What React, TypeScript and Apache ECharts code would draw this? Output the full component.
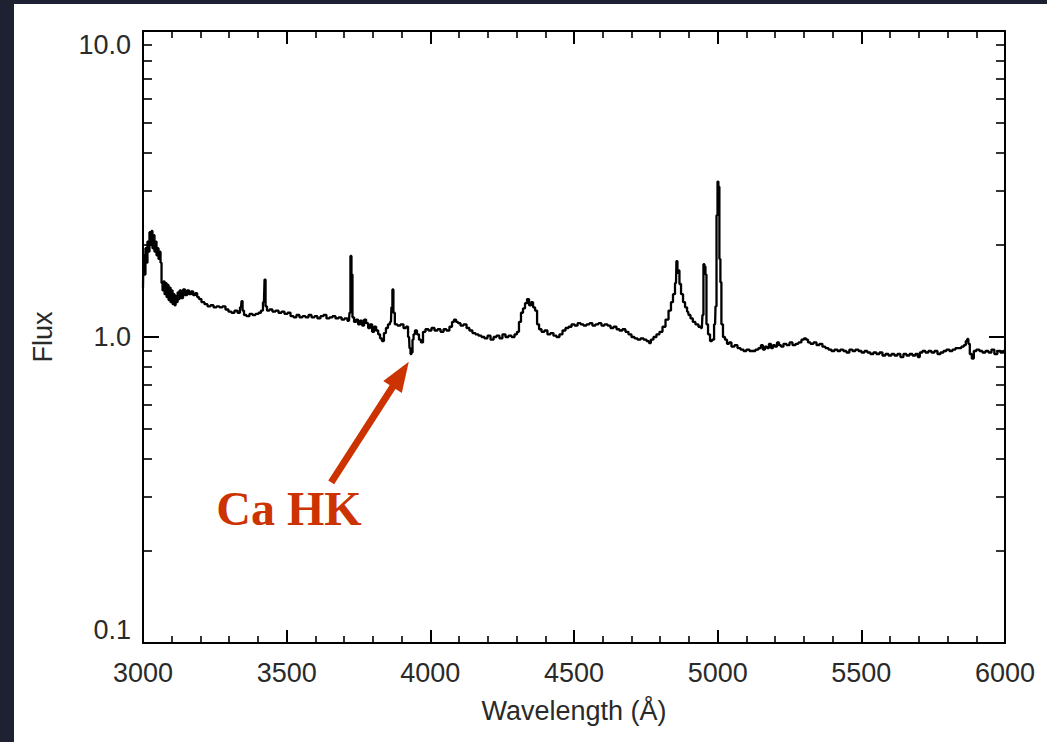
import React, { useEffect, useRef } from "react";
import * as echarts from "echarts";

// Axis ranges / tick labels
const xMin = 3000;
const xMax = 6000;
const xMajorStep = 500;
const yMin = 0.1;
const yMax = 10;
const minorFactors = [2, 3, 4, 5, 6, 7, 8, 9];
const decades = [-1, 0];

const xTitle = "Wavelength (Å)";
const yTitle = "Flux";
const annotationText = "Ca HK";

// Annotation anchors (data coordinates)
const arrowTip: [number, number] = [3925, 0.83];
const arrowTail: [number, number] = [3655, 0.335];
const labelAnchor: [number, number] = [3508, 0.275];

// Spectrum: [wavelength (Å), flux]
const spectrum: [number, number][] = [
  [3000, 1.45], [3003, 1.85], [3007, 1.6], [3010, 1.95], [3014, 1.75], [3017, 2.05],
  [3021, 1.9], [3024, 2.2], [3028, 2.0], [3031, 2.22], [3035, 1.95], [3038, 2.15],
  [3042, 1.9], [3045, 2.05], [3049, 1.85], [3052, 1.95], [3056, 1.8], [3059, 1.9],
  [3063, 1.75], [3066, 1.5], [3070, 1.42], [3073, 1.52], [3077, 1.38], [3080, 1.5],
  [3084, 1.35], [3087, 1.48], [3091, 1.32], [3094, 1.45], [3098, 1.3], [3101, 1.42],
  [3105, 1.28], [3108, 1.38], [3112, 1.27], [3115, 1.36], [3119, 1.3], [3122, 1.4],
  [3126, 1.33], [3129, 1.42], [3136, 1.34], [3143, 1.43], [3150, 1.37], [3157, 1.42],
  [3164, 1.38], [3171, 1.41], [3178, 1.37], [3185, 1.39], [3192, 1.35], [3198, 1.33],
  [3209, 1.3], [3219, 1.28], [3230, 1.26], [3240, 1.27], [3251, 1.25], [3261, 1.26],
  [3271, 1.25], [3282, 1.26], [3292, 1.23], [3303, 1.21], [3313, 1.2], [3324, 1.22],
  [3334, 1.2], [3341, 1.25], [3345, 1.31], [3348, 1.22], [3355, 1.18], [3365, 1.17],
  [3376, 1.19], [3386, 1.18], [3397, 1.19], [3407, 1.2], [3414, 1.22], [3421, 1.3],
  [3425, 1.54], [3428, 1.26], [3435, 1.22], [3445, 1.23], [3456, 1.21], [3466, 1.22],
  [3477, 1.2], [3487, 1.21], [3498, 1.19], [3508, 1.2], [3519, 1.17], [3529, 1.16],
  [3539, 1.18], [3550, 1.16], [3560, 1.17], [3571, 1.16], [3581, 1.18], [3592, 1.16],
  [3602, 1.17], [3612, 1.15], [3623, 1.17], [3633, 1.18], [3644, 1.15], [3654, 1.16],
  [3665, 1.17], [3675, 1.15], [3686, 1.16], [3696, 1.14], [3706, 1.15], [3717, 1.13],
  [3720, 1.2], [3724, 1.84], [3727, 1.6], [3731, 1.16], [3738, 1.12], [3745, 1.14],
  [3752, 1.1], [3759, 1.13], [3766, 1.09], [3773, 1.14], [3780, 1.11], [3787, 1.07],
  [3794, 1.1], [3801, 1.04], [3808, 1.08], [3815, 1.05], [3822, 1.02], [3828, 0.99],
  [3835, 0.97], [3842, 1.03], [3849, 1.07], [3856, 1.1], [3863, 1.12], [3866, 1.25],
  [3870, 1.43], [3873, 1.2], [3880, 1.1], [3891, 1.09], [3901, 1.1], [3912, 1.07],
  [3919, 1.08], [3926, 1.0], [3929, 0.92], [3933, 0.88], [3936, 0.89], [3940, 0.98],
  [3943, 1.02], [3950, 1.05], [3957, 1.02], [3964, 0.98], [3971, 0.96], [3978, 1.04],
  [3988, 1.06], [3999, 1.05], [4009, 1.07], [4020, 1.05], [4030, 1.06], [4041, 1.04],
  [4051, 1.06], [4061, 1.05], [4072, 1.08], [4079, 1.12], [4086, 1.14], [4093, 1.12],
  [4100, 1.11], [4110, 1.09], [4121, 1.1], [4131, 1.07], [4141, 1.05], [4152, 1.03],
  [4162, 1.02], [4173, 1.01], [4183, 1.0], [4194, 0.99], [4204, 1.01], [4215, 0.98],
  [4225, 1.0], [4235, 1.01], [4246, 0.99], [4256, 1.02], [4267, 1.0], [4277, 1.01],
  [4288, 1.0], [4298, 1.02], [4305, 1.04], [4312, 1.12], [4319, 1.2], [4326, 1.24],
  [4333, 1.29], [4340, 1.33], [4347, 1.27], [4354, 1.3], [4361, 1.25], [4368, 1.22],
  [4375, 1.1], [4382, 1.06], [4392, 1.04], [4402, 1.05], [4413, 1.02], [4423, 1.03],
  [4434, 1.01], [4444, 1.0], [4455, 1.02], [4465, 1.05], [4476, 1.07], [4486, 1.08],
  [4497, 1.1], [4507, 1.09], [4518, 1.11], [4528, 1.1], [4538, 1.09], [4549, 1.1],
  [4559, 1.11], [4569, 1.09], [4580, 1.1], [4590, 1.11], [4601, 1.09], [4611, 1.1],
  [4622, 1.09], [4632, 1.07], [4643, 1.08], [4653, 1.06], [4663, 1.05], [4674, 1.06],
  [4684, 1.04], [4695, 1.02], [4705, 1.0], [4716, 0.99], [4726, 0.98], [4737, 0.99],
  [4747, 0.98], [4758, 0.97], [4764, 0.956], [4771, 0.98], [4782, 1.0], [4792, 1.02],
  [4803, 1.04], [4813, 1.08], [4824, 1.14], [4834, 1.22], [4841, 1.3], [4848, 1.38],
  [4855, 1.5], [4858, 1.77], [4862, 1.62], [4865, 1.65], [4869, 1.49], [4876, 1.38],
  [4883, 1.3], [4890, 1.25], [4897, 1.21], [4901, 1.18], [4910, 1.15], [4917, 1.12],
  [4928, 1.1], [4938, 1.08], [4945, 1.07], [4949, 1.18], [4952, 1.73], [4956, 1.7],
  [4959, 1.6], [4963, 1.1], [4970, 1.02], [4977, 0.97], [4984, 0.98], [4991, 1.1],
  [4994, 1.26], [4998, 2.5], [5001, 3.22], [5004, 3.1], [5008, 1.8], [5011, 1.51],
  [5015, 1.1], [5022, 1.0], [5029, 0.98], [5036, 0.95], [5043, 0.96], [5053, 0.93],
  [5064, 0.94], [5074, 0.92], [5085, 0.91], [5095, 0.9], [5105, 0.91], [5116, 0.9],
  [5126, 0.9], [5137, 0.91], [5147, 0.92], [5154, 0.94], [5161, 0.91], [5168, 0.93],
  [5175, 0.92], [5182, 0.95], [5189, 0.92], [5196, 0.94], [5203, 0.93], [5210, 0.96],
  [5217, 0.94], [5224, 0.93], [5234, 0.95], [5245, 0.94], [5255, 0.96], [5266, 0.94],
  [5276, 0.95], [5286, 0.96], [5297, 0.98], [5304, 0.99], [5311, 0.98], [5318, 0.96],
  [5328, 0.95], [5339, 0.96], [5349, 0.94], [5359, 0.95], [5370, 0.93], [5380, 0.92],
  [5391, 0.91], [5401, 0.9], [5412, 0.91], [5422, 0.9], [5432, 0.91], [5443, 0.9],
  [5453, 0.89], [5464, 0.91], [5474, 0.9], [5485, 0.91], [5495, 0.9], [5506, 0.89],
  [5516, 0.9], [5526, 0.89], [5537, 0.88], [5547, 0.89], [5558, 0.88], [5568, 0.89],
  [5579, 0.87], [5589, 0.88], [5600, 0.87], [5610, 0.88], [5620, 0.87], [5631, 0.88],
  [5641, 0.86], [5652, 0.88], [5662, 0.87], [5673, 0.88], [5683, 0.87], [5693, 0.88],
  [5700, 0.86], [5707, 0.89], [5718, 0.9], [5728, 0.89], [5739, 0.9], [5749, 0.89],
  [5760, 0.9], [5770, 0.88], [5781, 0.89], [5791, 0.9], [5801, 0.91], [5812, 0.9],
  [5822, 0.91], [5833, 0.92], [5843, 0.92], [5853, 0.93], [5860, 0.94], [5867, 0.97],
  [5871, 0.985], [5874, 0.95], [5881, 0.88], [5888, 0.85], [5895, 0.9], [5906, 0.91],
  [5916, 0.9], [5927, 0.89], [5937, 0.9], [5948, 0.89], [5958, 0.91], [5968, 0.88],
  [5979, 0.9], [5989, 0.89], [6000, 0.9],
];

const FONT = "Liberation Sans";
const TEXT_COLOR = "#2a2a2a";
const RED = "#cc3300";

// minor tick positions expressed in log10 space for the overlay axes
const minorTickLogValues: number[] = [];
decades.forEach((d) => minorFactors.forEach((f) => minorTickLogValues.push(d + Math.log10(f))));

export default function App() {
  const ref = useRef<HTMLDivElement>(null);

  useEffect(() => {
    document.body.style.margin = "0";
    if (!ref.current) return;
    const chart = echarts.init(ref.current, null, { renderer: "svg" });

    const axisLine = { show: true, onZero: false, lineStyle: { color: "#000", width: 2 } };

    const xAxisBase = {
      type: "value",
      min: xMin,
      max: xMax,
      interval: xMajorStep,
      axisLine,
      axisTick: { show: true, inside: true, length: 13, lineStyle: { color: "#000", width: 2 } },
      minorTick: { show: true, splitNumber: 5, length: 7, lineStyle: { color: "#000", width: 1.6 } },
      splitLine: { show: false },
      minorSplitLine: { show: false },
    };

    const yLogBase = {
      type: "log",
      logBase: 10,
      min: yMin,
      max: yMax,
      axisLine,
      axisTick: { show: true, inside: true, length: 16, lineStyle: { color: "#000", width: 2 } },
      splitLine: { show: false },
    };

    const yMinorBase = {
      type: "value",
      min: -1,
      max: 1,
      axisLine: { show: false },
      axisLabel: { show: false },
      splitLine: { show: false },
      axisTick: {
        show: true,
        inside: true,
        length: 9,
        customValues: minorTickLogValues,
        lineStyle: { color: "#000", width: 1.6 },
      },
    };

    const option: any = {
      animation: false,
      backgroundColor: "#ffffff",
      grid: { left: 129, right: 42, top: 27, bottom: 99, containLabel: false },
      xAxis: [
        {
          ...xAxisBase,
          position: "bottom",
          axisLabel: {
            show: true,
            margin: 16,
            fontFamily: FONT,
            fontSize: 27,
            color: TEXT_COLOR,
            formatter: (v: number) => String(v),
          },
          name: xTitle,
          nameLocation: "middle",
          nameGap: 54,
          nameTextStyle: { fontFamily: FONT, fontSize: 27, color: TEXT_COLOR },
        },
        { ...xAxisBase, position: "top", axisLabel: { show: false } },
      ],
      yAxis: [
        {
          ...yLogBase,
          position: "left",
          axisLabel: {
            show: true,
            margin: 12,
            fontFamily: FONT,
            fontSize: 27,
            color: TEXT_COLOR,
            verticalAlignMaxLabel: "top",
            verticalAlignMinLabel: "bottom",
            formatter: (v: number) => Number(v).toFixed(1),
          },
          name: yTitle,
          nameLocation: "middle",
          nameRotate: 90,
          nameGap: 87,
          nameTextStyle: { fontFamily: FONT, fontSize: 27, color: TEXT_COLOR },
        },
        { ...yLogBase, position: "right", axisLabel: { show: false } },
        { ...yMinorBase, position: "left" },
        { ...yMinorBase, position: "right" },
      ],
      series: [
        {
          type: "line",
          xAxisIndex: 0,
          yAxisIndex: 0,
          data: spectrum,
          step: "middle",
          showSymbol: false,
          symbol: "none",
          clip: true,
          lineStyle: { color: "#000", width: 2.3 },
        },
      ],
    };

    chart.setOption(option);

    const tip = chart.convertToPixel({ seriesIndex: 0 }, arrowTip) as number[];
    const tail = chart.convertToPixel({ seriesIndex: 0 }, arrowTail) as number[];
    const lab = chart.convertToPixel({ seriesIndex: 0 }, labelAnchor) as number[];
    if (tip && tail && lab) {
      const dx = tip[0] - tail[0];
      const dy = tip[1] - tail[1];
      const len = Math.sqrt(dx * dx + dy * dy);
      const ux = dx / len;
      const uy = dy / len;
      const headLen = 30;
      const halfW = 11;
      const bx = tip[0] - ux * headLen;
      const by = tip[1] - uy * headLen;
      const px = -uy;
      const py = ux;
      chart.setOption({
        graphic: [
          {
            type: "line",
            shape: { x1: tail[0], y1: tail[1], x2: bx + ux * 2, y2: by + uy * 2 },
            style: { stroke: RED, lineWidth: 7 },
            z: 100,
          },
          {
            type: "polygon",
            shape: {
              points: [
                [tip[0], tip[1]],
                [bx + px * halfW, by + py * halfW],
                [bx - px * halfW, by - py * halfW],
              ],
            },
            style: { fill: RED },
            z: 100,
          },
          {
            type: "text",
            x: lab[0],
            y: lab[1],
            style: {
              text: annotationText,
              fill: RED,
              font: "bold 48px 'Liberation Serif', serif",
              align: "center",
              verticalAlign: "middle",
            },
            z: 100,
          },
        ],
      });
    }

    return () => chart.dispose();
  }, []);

  return (
    <div style={{ position: "relative", width: 1047, height: 742, background: "#1e2131", overflow: "hidden" }}>
      <div
        ref={ref}
        style={{ position: "absolute", left: 14, top: 4, width: 1033, height: 738, background: "#ffffff" }}
      />
    </div>
  );
}
